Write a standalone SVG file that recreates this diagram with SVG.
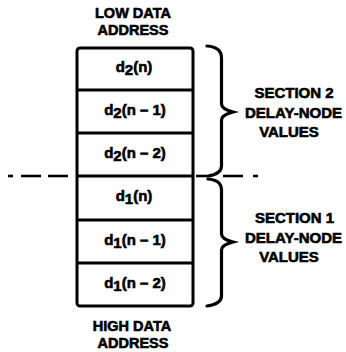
<svg xmlns="http://www.w3.org/2000/svg" width="346" height="352" viewBox="0 0 346 352">
<style>
text{font-family:"Liberation Sans",Arial,sans-serif;font-weight:bold;fill:#000;stroke:#000;stroke-width:0.6}
.lbl{font-size:14.5px;text-anchor:middle}
.sec{font-size:15px;text-anchor:middle}
.cell{font-size:15px;text-anchor:middle}
.box{fill:#fff;stroke:#000;stroke-width:3}
.div{stroke:#000;stroke-width:2.8}
.brace{fill:none;stroke:#000;stroke-width:3.2;stroke-linejoin:miter;stroke-linecap:round}
.dash{stroke:#000;stroke-width:2.6}
</style>
<rect width="346" height="352" fill="#fff"/>
<g id="memory-block">
<rect class="box" x="77" y="48" width="116" height="258" rx="3"/>
</g>
<g id="cell-d2n"><text class="cell" x="134" y="72">d<tspan dy="3">2</tspan><tspan dy="-3">(n)</tspan></text></g>
<g id="cell-d2n1"><line class="div" x1="77" y1="90" x2="193" y2="90"/><text class="cell" x="135" y="115">d<tspan dy="3">2</tspan><tspan dy="-3">(n – 1)</tspan></text></g>
<g id="cell-d2n2"><line class="div" x1="77" y1="133" x2="193" y2="133"/><text class="cell" x="135" y="158">d<tspan dy="3">2</tspan><tspan dy="-3">(n – 2)</tspan></text></g>
<g id="cell-d1n"><line class="div" x1="77" y1="176" x2="193" y2="176"/><text class="cell" x="134" y="201">d<tspan dy="3">1</tspan><tspan dy="-3">(n)</tspan></text></g>
<g id="cell-d1n1"><line class="div" x1="77" y1="220" x2="193" y2="220"/><text class="cell" x="135" y="245">d<tspan dy="3">1</tspan><tspan dy="-3">(n – 1)</tspan></text></g>
<g id="cell-d1n2"><line class="div" x1="77" y1="263" x2="193" y2="263"/><text class="cell" x="135" y="288">d<tspan dy="3">1</tspan><tspan dy="-3">(n – 2)</tspan></text></g>
<g id="low-address"><text class="lbl" x="133" y="18">LOW DATA</text><text class="lbl" x="133" y="35">ADDRESS</text></g>
<g id="high-address"><text class="lbl" x="132" y="330.5">HIGH DATA</text><text class="lbl" x="133" y="347.5">ADDRESS</text></g>
<g id="section2"><text class="sec" x="294" y="98">SECTION 2</text><text class="sec" x="293.5" y="117.5">DELAY-NODE</text><text class="sec" x="289" y="137">VALUES</text></g>
<g id="section1"><text class="sec" x="294.5" y="223">SECTION 1</text><text class="sec" x="293.5" y="242.5">DELAY-NODE</text><text class="sec" x="289" y="262">VALUES</text></g>
<g id="connectors">
<path class="brace" d="M207,46 Q221.5,47 221.5,58 L221.5,104 Q221.5,109 233,112 Q221.5,115 221.5,120 L221.5,166 Q221.5,174 208,176"/>
<path class="brace" d="M208,179 Q221.5,180 221.5,190 L221.5,234 Q221.5,239 233,242 Q221.5,245 221.5,250 L221.5,296 Q221.5,304 207,306"/>
<line class="dash" x1="8" y1="176" x2="13" y2="176"/>
<line class="dash" x1="21" y1="176" x2="41" y2="176"/>
<line class="dash" x1="48" y1="176" x2="68" y2="176"/>
<line class="dash" x1="196" y1="176" x2="207" y2="176"/>
<line class="dash" x1="223" y1="176" x2="243" y2="176"/>
<line class="dash" x1="253" y1="176" x2="258" y2="176"/>
</g>
</svg>
